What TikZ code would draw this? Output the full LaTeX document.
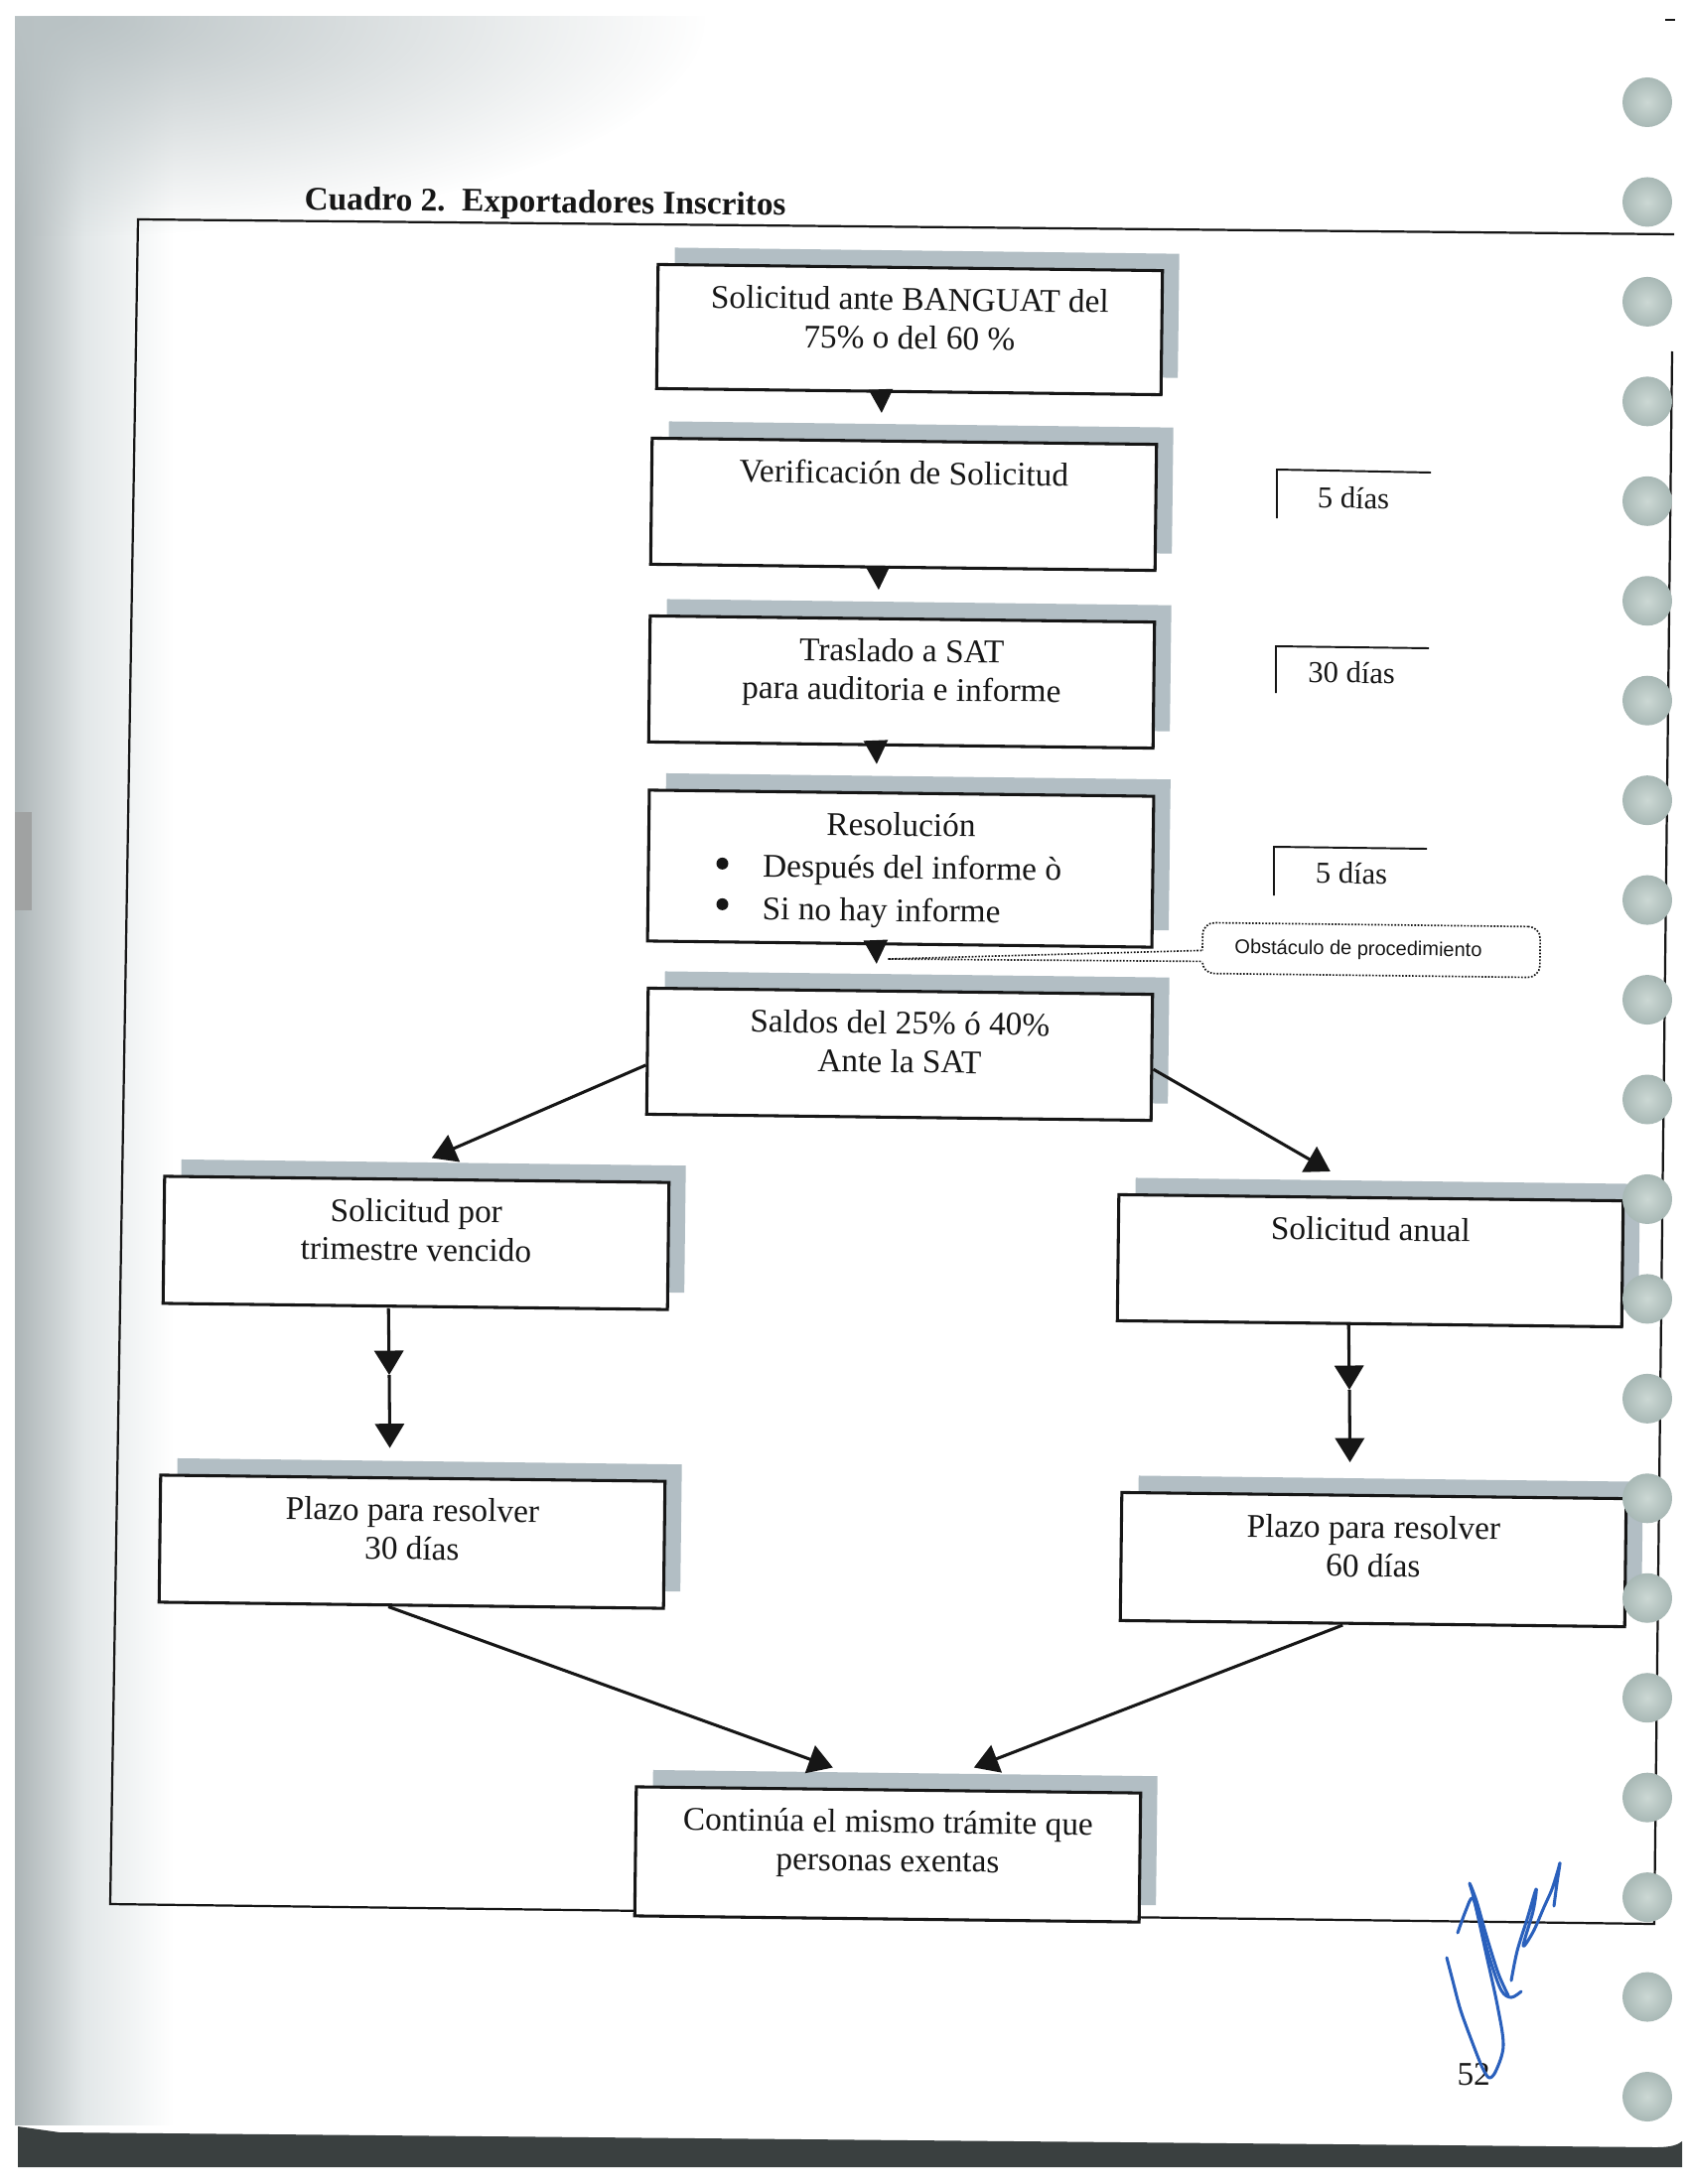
\documentclass[tikz,border=0pt]{standalone}
\usepackage{fontspec}
\setmainfont{Liberation Serif}
\newfontfamily\calloutfont{Liberation Sans}
\usetikzlibrary{arrows.meta,shadows,calc,fadings}
\newdimen\pxu \pxu=0.36pt
\definecolor{shadowc}{RGB}{178,190,196}
\definecolor{ink}{RGB}{22,22,22}
\definecolor{holein}{RGB}{204,216,212}
\definecolor{holeout}{RGB}{168,184,181}
\definecolor{bandc}{RGB}{58,64,64}
\definecolor{sigc}{RGB}{42,96,188}
\definecolor{edgedark}{RGB}{172,180,182}
\definecolor{edgelight}{RGB}{226,231,232}
\definecolor{cornerc}{RGB}{185,194,196}
\definecolor{blockc}{RGB}{160,162,162}
\tikzfading[name=cornerfade, inner color=transparent!0, outer color=transparent!100]
\newcommand\bxt[2][127]{\begin{minipage}[c][#1\pxu][t]{508\pxu}\centering\rule{0pt}{15.5pt}#2\end{minipage}}
\newcommand\bulspace{\makebox[17pt][l]{}}
\begin{document}
\begin{tikzpicture}[x=0.36pt,y=-0.36pt,
  rot/.style={rotate=-0.7},
  box/.style={draw=ink, line width=1.1pt, fill=white, inner sep=0pt, rot,
    font=\fontsize{12pt}{14pt}\selectfont, text=ink,
    drop shadow={shadow xshift=6.1pt, shadow yshift=6.1pt, fill=shadowc, opacity=1}},
  con/.style={draw=ink, line width=1.1pt, -{Triangle[length=8.8pt,width=10.5pt]}},
  ccon/.style={draw=ink, line width=1.1pt, -{Triangle[length=8.6pt,width=8.6pt]}},
  dotline/.style={draw=ink, line width=0.6pt, dash pattern=on 0.6pt off 0.6pt},
  callout/.style={dotline, rounded corners=4.3pt, fill=white, minimum width=122.4pt,
    minimum height=18.4pt, inner sep=0pt, rot, text=ink,
    font=\calloutfont\fontsize{7.2pt}{9pt}\selectfont},
  lab/.style={font=\fontsize{11pt}{13pt}\selectfont, text=ink, inner sep=0pt, rot},
  brk/.style={draw=ink, line width=0.7pt},
  sig/.style={draw=sigc, line width=1.1pt, line cap=round, line join=round}]
\useasboundingbox (0,0) rectangle (1700,2200);
\fill[white] (0,0) rectangle (1700,2200);
% scan background
\begin{scope}
\clip (0,0) rectangle (1700,2200);
\shade[left color=edgedark, right color=edgelight] (15,18) rectangle (85,2140);
\shade[left color=edgelight, right color=white] (85,18) rectangle (175,2140);
\fill[cornerc, path fading=cornerfade] (60,18) ellipse [x radius=650, y radius=220];
\fill[blockc] (15,818) rectangle (32,917);
\fill[white] (0,0) rectangle (15,2200);
\fill[white] (0,0) rectangle (1700,16);
\end{scope}
% frame
\draw[ink, line width=0.8pt] (1684,354) -- (1666,1938) -- (111,1918) -- (139,221) -- (1686,236);
\draw[ink, line width=1pt] (1677,20) -- (1687,20);
% title
\node[anchor=base west, inner sep=0pt, rot, text=ink, font=\bfseries\fontsize{12pt}{14pt}\selectfont] (title) at (306,211) {Cuadro 2.\ \ Exportadores Inscritos};
% boxes
\node[box] (b1) at (916,332) {\bxt[125]{Solicitud ante BANGUAT del\\75\% o del 60 \%}};
\node[box] (b2) at (910,508) {\bxt{Verificación de Solicitud}};
\node[box] (b3) at (908,687) {\bxt{Traslado a SAT\\para auditoria e informe}};
\node[box] (b4) at (907,875) {\bxt[152]{Resolución\\[1.5pt]
  \makebox[508\pxu][l]{\hspace*{24.5pt}\bulspace Después del informe ò}\\[1.5pt]
  \makebox[508\pxu][l]{\hspace*{24.5pt}\bulspace Si no hay informe}}};
\node[box] (b5) at (906,1062) {\bxt{Saldos del 25\% ó 40\%\\Ante la SAT}};
\node[box] (b6) at (419,1252) {\bxt[128]{Solicitud por\\trimestre vencido}};
\node[box] (b7) at (1380,1270) {\bxt{Solicitud anual}};
\node[box] (b8) at (415,1553) {\bxt[128]{Plazo para resolver\\30 días}};
\node[box] (b9) at (1383,1571) {\bxt[129]{Plazo para resolver\\60 días}};
\node[box] (b10) at (894,1868) {\bxt[130]{Continúa el mismo trámite que\\personas exentas}};
% list bullets of box 4
\fill[ink] ($(b4.west)+(76,-2)$) circle (6);
\fill[ink] ($(b4.west)+(76,39)$) circle (6);
% callout
\node[callout] (obs) at (1381,957) {Obstáculo de procedimiento\hspace*{26\pxu}};
\coordinate (obstip) at (894,966);
\fill[white] ($(obs.west)+(-3,2.5)$) -- (obstip) -- ($(obs.west)+(-3,13.5)$) -- ($(obs.west)+(4,13.5)$) -- ($(obs.west)+(4,2.5)$) -- cycle;
\draw[dotline] ($(obs.west)+(0,2.5)$) -- (obstip) -- ($(obs.west)+(0,13.5)$);
% central connectors
\draw[ccon, shorten >=9.7pt] ($(b1.south)+(-28,0)$) -- ($(b2.north)+(-22,0)$);
\draw[ccon, shorten >=10pt] ($(b2.south)+(-25,0)$) -- ($(b3.north)+(-23,0)$);
\draw[ccon, shorten >=10pt] ($(b3.south)+(-25,0)$) -- ($(b4.north)+(-24,0)$);
\draw[ccon, shorten >=9.4pt] ($(b4.south)+(-24,0)$) -- ($(b5.north)+(-23,0)$);
% branches
\draw[con] ($(b5.west)+(0,14)$) -- ($(b6.north)+(15,-20)$);
\draw[con] ($(b5.east)+(0,12)$) -- ($(b7.north)+(-41,-25)$);
\coordinate (m6) at (392,1385);
\coordinate (m7) at (1359,1400);
\draw[con] ($(b6.south)+(-27,0)$) -- (m6);
\draw[con, shorten >=10.4pt] (m6) -- ($(b8.north)+(-23,0)$);
\draw[con] ($(b7.south)+(-21,0)$) -- (m7);
\draw[con, shorten >=11.5pt] (m7) -- ($(b9.north)+(-24,0)$);
\draw[con] ($(b8.south)+(-23,0)$) -- ($(b10.north)+(-56,-21)$);
\draw[con] ($(b9.south)+(-30,0)$) -- ($(b10.north)+(86,-21)$);
% day brackets
\draw[brk] (1286,522) -- (1286,473) -- (1441,476);
\node[lab, anchor=base] (d1) at (1363,512) {5 días};
\draw[brk] (1285,698) -- (1285,651) -- (1439,653);
\node[lab, anchor=base] (d2) at (1361,688) {30 días};
\draw[brk] (1283,902) -- (1283,853) -- (1437,855);
\node[lab, anchor=base] (d3) at (1361,890) {5 días};
% page number
\node[anchor=base west, inner sep=0pt, text=ink, font=\fontsize{12pt}{14pt}\selectfont] (pg) at (1467,2100) {52};
% signature
\draw[sig] plot[smooth, tension=0.55] coordinates {(1457,1972) (1463,1995) (1471,2025) (1483,2058) (1493,2083) (1500,2093) (1507,2085) (1514,2060) (1508,2020) (1496,1965) (1485,1915) (1480,1897) (1487,1915) (1497,1950) (1509,1988) (1519,2010)};
\draw[sig] plot[smooth, tension=0.55] coordinates {(1468,1947) (1476,1925) (1483,1912) (1490,1935) (1501,1975) (1512,2005) (1522,2012) (1532,2006)};
\draw[sig] plot[smooth, tension=0.55] coordinates {(1522,1995) (1528,1965) (1538,1933) (1547,1903) (1544,1925) (1534,1960) (1544,1946) (1555,1921) (1563,1903) (1569,1884) (1571,1877) (1568,1897) (1565,1920)};
% binder holes
\foreach \k in {0,...,20} {
  \shade[inner color=holein, outer color=holeout] (1659,{103+100.45*\k}) circle (25);
}
% bottom dark band
\fill[bandc] (18,2142) -- (60,2148) -- (1667,2163) .. controls (1685,2163) and (1690,2160) .. (1694,2157) -- (1694,2183) -- (18,2183) -- cycle;
\end{tikzpicture}
\end{document}
